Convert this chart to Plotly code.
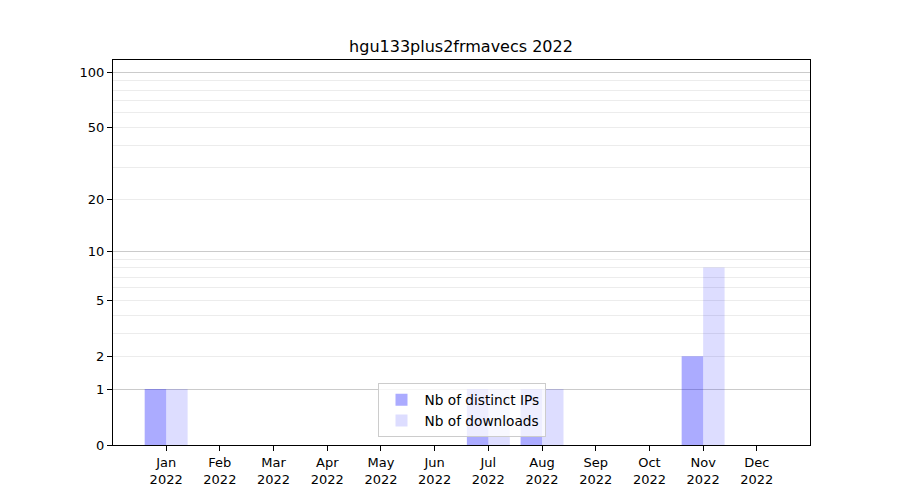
import plotly.graph_objects as go

months = ["Jan", "Feb", "Mar", "Apr", "May", "Jun", "Jul", "Aug", "Sep", "Oct", "Nov", "Dec"]
year = "2022"
distinct_ips = [1, 0, 0, 0, 0, 0, 1, 1, 0, 0, 2, 0]
downloads = [1, 0, 0, 0, 0, 0, 1, 1, 0, 0, 8, 0]
tick_values = [0, 1, 2, 5, 10, 20, 50, 100]
major_grid = [1, 10, 100]
minor_grid = [2, 3, 4, 5, 6, 7, 8, 9, 20, 30, 40, 50, 60, 70, 80, 90]

x_labels = [f"{m}<br>{year}" for m in months]
xi = list(range(len(months)))

fig = go.Figure()
fig.add_trace(go.Bar(x=xi, y=distinct_ips, base=1, name="Nb of distinct IPs",
                     marker=dict(color="rgba(0,0,255,0.33)", line=dict(width=0))))
fig.add_trace(go.Bar(x=xi, y=downloads, base=1, name="Nb of downloads",
                     marker=dict(color="rgba(0,0,255,0.135)", line=dict(width=0))))

font = "DejaVu Sans, sans-serif"
yrange = [0, 2.07]
W, H = 892, 492
fig.update_layout(
    width=W, height=H,
    margin=dict(l=105, r=90, t=52, b=55),
    paper_bgcolor="white", plot_bgcolor="white",
    font=dict(family=font, size=13, color="black"),
    title=dict(text=f"hgu133plus2frmavecs {year}", x=(461 - 8) / W, xanchor="center",
               y=1 - 38 / H, yanchor="middle", font=dict(size=16)),
    barmode="group", bargap=0.2, bargroupgap=0,
    showlegend=True,
    legend=dict(x=0.5, xanchor="center", y=0.02, yanchor="bottom",
                bgcolor="rgba(255,255,255,0.8)", bordercolor="#cccccc", borderwidth=1,
                font=dict(size=13.7), traceorder="normal", itemwidth=36),
    xaxis=dict(range=[-0.99, 11.99], tickmode="array", tickvals=xi, ticktext=x_labels,
               showgrid=False, zeroline=False, showline=True, mirror=True,
               linecolor="black", linewidth=1, ticks="outside", ticklen=5,
               tickcolor="black"),
    yaxis=dict(type="log", range=yrange, tickmode="array",
               tickvals=[v + 1 for v in tick_values], ticktext=[str(v) for v in tick_values],
               showgrid=False, zeroline=False, showline=True, mirror=True,
               linecolor="black", linewidth=1, ticks="outside", ticklen=5,
               tickcolor="black",
               minor=dict(tickmode="array", tickvals=[v + 1 for v in minor_grid],
                          showgrid=True, gridcolor="#ececec", gridwidth=1, ticks="")),
    yaxis2=dict(type="log", range=yrange, overlaying="y", side="left",
                tickmode="array", tickvals=[v + 1 for v in major_grid],
                showticklabels=False, ticks="", showgrid=True, gridcolor="#cbcbcb",
                gridwidth=1, zeroline=False, showline=False),
)
# invisible trace to activate the overlay axis for major gridlines
fig.add_trace(go.Scatter(x=[xi[0]], y=[1], yaxis="y2", mode="markers",
                         marker=dict(opacity=0), showlegend=False, hoverinfo="skip"))

fig.write_html("out.html")
